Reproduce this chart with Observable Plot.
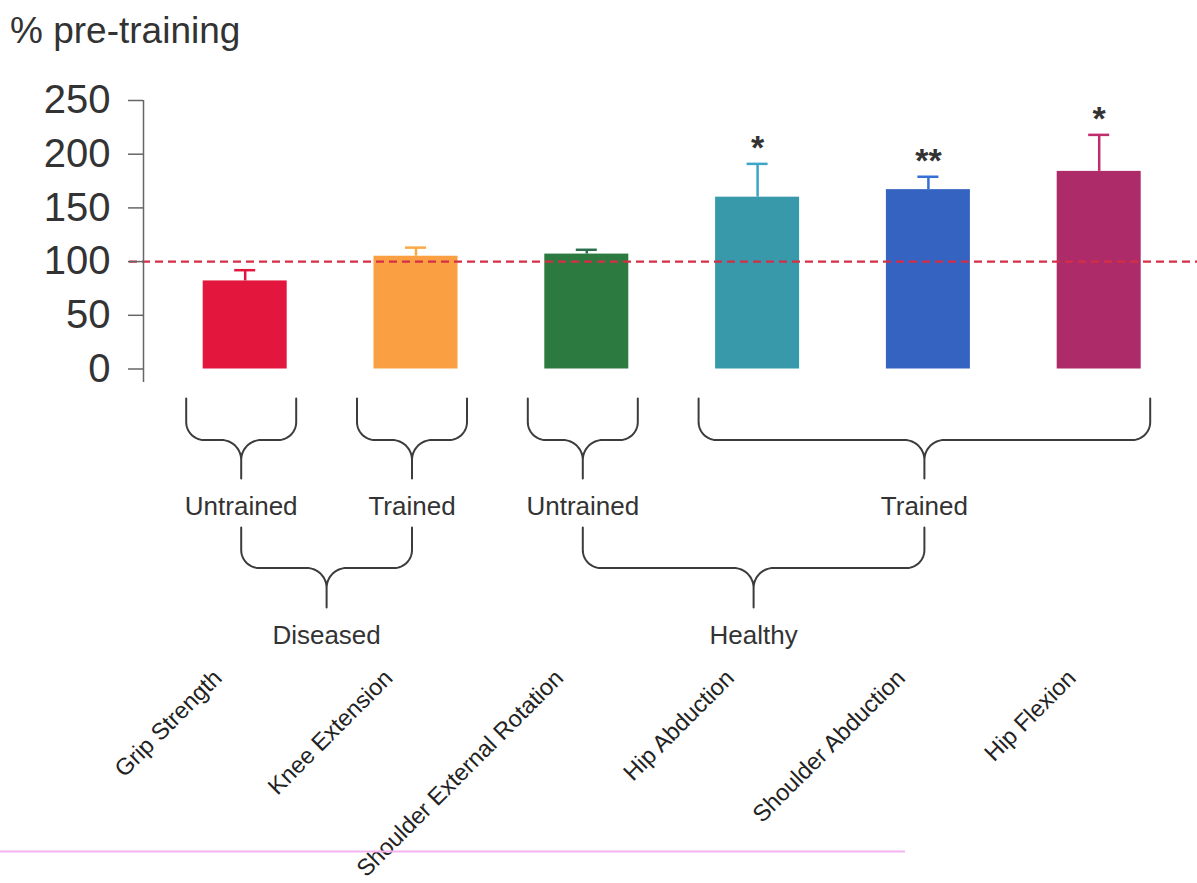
<!DOCTYPE html>
<html>
<head>
<meta charset="utf-8">
<script src="https://cdn.jsdelivr.net/npm/d3@7"></script>
<script src="https://cdn.jsdelivr.net/npm/@observablehq/plot@0.6"></script>
<style>
  body { margin: 0; background: #fff; font-family: "Liberation Sans", Arial, sans-serif; }
  #title { height: 60px; box-sizing: border-box; padding: 12px 0 0 10px; font-size: 37px; line-height: 37px; color: #333; }
  #chart svg { display: block; }
</style>
</head>
<body>
<div id="title">% pre-training</div>
<div id="chart"></div>
<script>
// ---- data ----
const categories = ["Grip Strength", "Knee Extension", "Shoulder External Rotation", "Hip Abduction", "Shoulder Abduction", "Hip Flexion"];
const means = [82, 105, 107, 160, 167, 184];
const errors = [10, 8, 4, 31, 12, 34];
const significance = ["", "", "", "*", "**", "*"];
const barColors = ["#e3173e", "#faa042", "#2c7a40", "#3799a9", "#3463c1", "#ae2b69"];
const errorColors = ["#e3173e", "#f9aa45", "#2c6e4e", "#3ba6c6", "#3570d4", "#c02c6c"];
const yTicks = [0, 50, 100, 150, 200, 250];
const baselineValue = 100;

const level1Labels = ["Untrained", "Trained", "Untrained", "Trained"];
const level1First = ["Grip Strength", "Knee Extension", "Shoulder External Rotation", "Hip Abduction"];
const level1Last = ["Grip Strength", "Knee Extension", "Shoulder External Rotation", "Hip Flexion"];
const level2Labels = ["Diseased", "Healthy"];
const level2First = [0, 2];
const level2Last = [1, 3];

// ---- layout ----
const W = 1197, H = 823, marginTop = 40, marginLeft = 143;
const firstCenterPx = 244.7, pxPerCat = 170.8;
const zeroPagePx = 368.5, pxPerUnit = 1.074;
const xDomain = [(marginLeft - firstCenterPx) / pxPerCat, (W - firstCenterPx) / pxPerCat];
const yDomain = [250 - (H - marginTop) / pxPerUnit, 250];
const vAt = (pagePx) => (zeroPagePx - pagePx) / pxPerUnit;   // page row -> value units
const xAt = (px) => (px - firstCenterPx) / pxPerCat;         // page column -> category units
const barHalf = 42 / pxPerCat, capHalf = 10.5 / pxPerCat, bracePad = 55 / pxPerCat, braceShift = -4 / pxPerCat;
const armR = 18, tipR = 20;

const bars = categories.map((c, i) => ({
  c, i, mean: means[i], upper: means[i] + errors[i], sig: significance[i],
  fill: barColors[i], err: errorColors[i]
}));

function brace(id, xa, xb, xc, top, mid, tip) {
  const r1x = armR / pxPerCat, r1y = armR / pxPerUnit, r2x = tipR / pxPerCat, r2y = tipR / pxPerUnit, n = 16;
  const pts = [[xa, top]];
  for (let k = 0; k <= n; k++) { const t = k / n * Math.PI / 2; pts.push([xa + r1x * (1 - Math.cos(t)), mid + r1y * (1 - Math.sin(t))]); }
  for (let k = 0; k <= n; k++) { const t = k / n * Math.PI / 2; pts.push([xc - r2x + r2x * Math.sin(t), mid - r2y * (1 - Math.cos(t))]); }
  pts.push([xc, tip]);
  for (let k = n; k >= 0; k--) { const t = k / n * Math.PI / 2; pts.push([xc + r2x - r2x * Math.sin(t), mid - r2y * (1 - Math.cos(t))]); }
  for (let k = n; k >= 0; k--) { const t = k / n * Math.PI / 2; pts.push([xb - r1x * (1 - Math.cos(t)), mid + r1y * (1 - Math.sin(t))]); }
  pts.push([xb, top]);
  return pts.map(([x, y]) => ({id, x, y}));
}

const level1 = level1Labels.map((label, j) => {
  const a = categories.indexOf(level1First[j]), b = categories.indexOf(level1Last[j]);
  return {label, xa: a - bracePad + braceShift, xb: b + bracePad + braceShift, xc: (a + b) / 2 + braceShift};
});
const level2 = level2Labels.map((label, j) => {
  const xa = level1[level2First[j]].xc, xb = level1[level2Last[j]].xc;
  return {label, xa, xb, xc: (xa + xb) / 2};
});

const bracePts = [
  ...level1.flatMap((g, j) => brace("a" + j, g.xa, g.xb, g.xc, vAt(398), vAt(439.5), vAt(478))),
  ...level2.flatMap((g, j) => brace("b" + j, g.xa, g.xb, g.xc, vAt(527), vAt(567.5), vAt(607)))
];

const chart = Plot.plot({
  width: W, height: H,
  marginTop, marginLeft, marginRight: 0, marginBottom: 0,
  style: {fontFamily: "Liberation Sans, Arial, sans-serif", background: "#fff"},
  x: {domain: xDomain, axis: null},
  y: {domain: yDomain, axis: null},
  color: {type: "identity"},
  marks: [
    Plot.rect(bars, {x1: d => d.i - barHalf, x2: d => d.i + barHalf, y1: 0, y2: "mean", fill: "fill"}),
    Plot.ruleX(bars, {x: "i", y1: "mean", y2: "upper", stroke: "err", strokeWidth: 2.5}),
    Plot.ruleY(bars, {y: "upper", x1: d => d.i - capHalf, x2: d => d.i + capHalf, stroke: "err", strokeWidth: 2.5}),
    Plot.ruleY([baselineValue], {x1: xAt(129), x2: xDomain[1], stroke: "#d62e45", strokeWidth: 2.2, strokeDasharray: "8,5"}),
    Plot.ruleX([xDomain[0]], {y1: vAt(382), y2: 250, stroke: "#666", strokeWidth: 1.5}),
    Plot.axisY({ticks: yTicks, tickSize: 15, tickPadding: 18, fontSize: 40, label: null, stroke: "#666", fill: "#333", strokeWidth: 1.5}),
    Plot.text(bars.filter(d => d.sig), {x: "i", y: "upper", text: "sig", fontSize: 34, fontWeight: "bold", lineAnchor: "bottom", dy: -5, fill: "#333"}),
    Plot.line(bracePts, {x: "x", y: "y", z: "id", stroke: "#3c3c3c", strokeWidth: 2}),
    Plot.text(level1, {x: "xc", y: vAt(506), text: "label", fontSize: 26, fill: "#333"}),
    Plot.text(level2, {x: "xc", y: vAt(635), text: "label", fontSize: 26, fill: "#333"}),
    Plot.text(bars, {x: "i", y: vAt(679), text: "c", rotate: -45, textAnchor: "end", lineAnchor: "bottom", fontSize: 23.5, dx: -22, fill: "#222"}),
    Plot.ruleY([vAt(851)], {x1: xAt(0), x2: xAt(905), stroke: "#f4b4f0", strokeWidth: 2})
  ]
});
document.getElementById("chart").appendChild(chart);
</script>
</body>
</html>
